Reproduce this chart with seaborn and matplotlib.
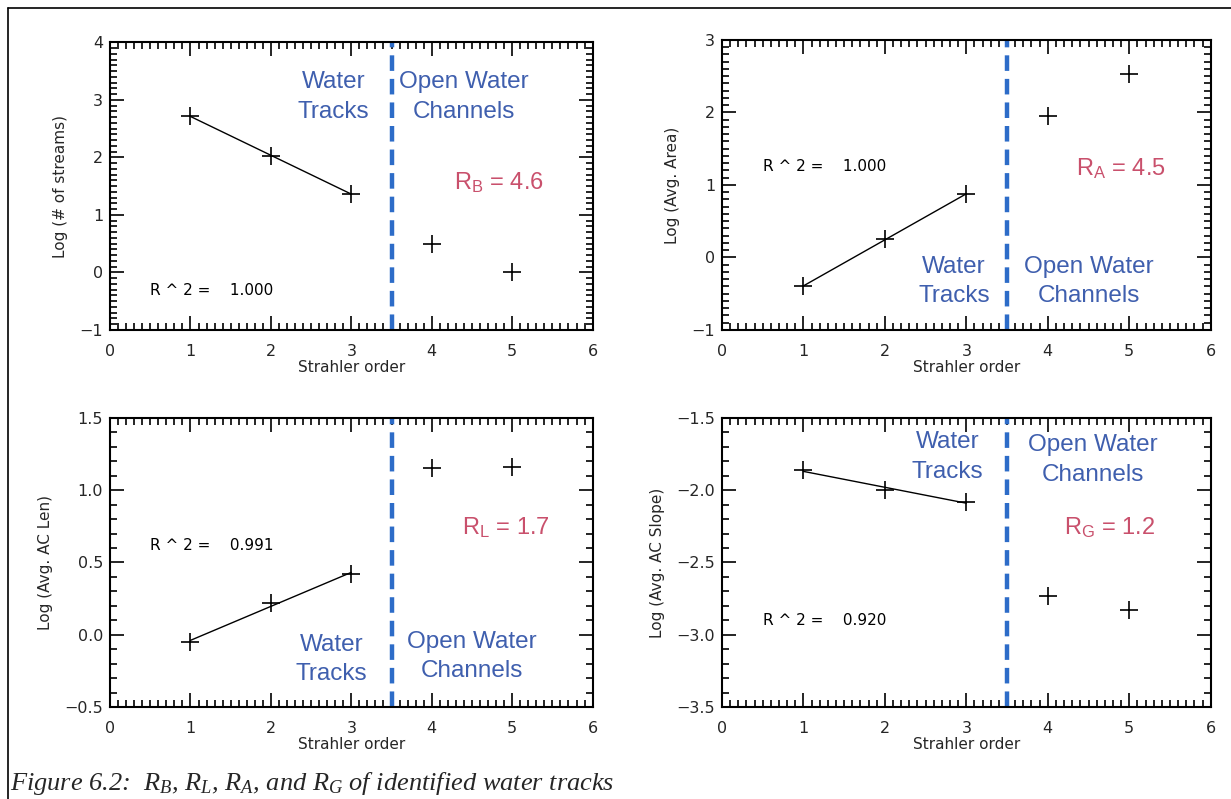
import numpy as np
import pandas as pd
import matplotlib
matplotlib.use('Agg')
import matplotlib.pyplot as plt
import seaborn as sns
from matplotlib.ticker import MultipleLocator
from matplotlib.lines import Line2D

# --- dane ---
order = [1, 2, 3, 4, 5]
log_streams = [2.72, 2.02, 1.37, 0.49, 0.00]
log_area = [-0.40, 0.26, 0.87, 1.95, 2.53]
log_len = [-0.05, 0.22, 0.42, 1.15, 1.16]
log_slope = [-1.86, -2.00, -2.08, -2.73, -2.83]

ylabels = ['Log (# of streams)', 'Log (Avg. Area)', 'Log (Avg. AC Len)', 'Log (Avg. AC Slope)']
r2_texts = ['R ^ 2 =    1.000', 'R ^ 2 =    1.000', 'R ^ 2 =    0.991', 'R ^ 2 =    0.920']
ratio_texts = [r'$\mathrm{R_B}$ = 4.6', r'$\mathrm{R_A}$ = 4.5', r'$\mathrm{R_L}$ = 1.7', r'$\mathrm{R_G}$ = 1.2']
ylims = [(-1, 4), (-1, 3), (-0.5, 1.5), (-3.5, -1.5)]
ymajor = [1, 1, 0.5, 0.5]
yfmt = ['{:.0f}', '{:.0f}', '{:.1f}', '{:.1f}']
# pozycje tekstów (x, y) w jednostkach danych
r2_pos = [(0.5, -0.31), (0.5, 1.25), (0.5, 0.62), (0.5, -2.9)]
ratio_pos = [(4.83, 1.57), (4.9, 1.22), (4.92, 0.74), (4.76, -2.26)]
wt_pos = [(2.78, 3.05), (2.85, -0.33), (2.75, -0.17), (2.77, -1.77)]
ow_pos = [(4.4, 3.05), (4.5, -0.33), (4.5, -0.15), (4.55, -1.79)]

series = [log_streams, log_area, log_len, log_slope]

sns.set_style('white')
plt.rcParams['mathtext.fontset'] = 'custom'
plt.rcParams['mathtext.rm'] = 'Liberation Sans'
plt.rcParams['mathtext.it'] = 'Liberation Serif:italic'
plt.rcParams['font.family'] = ['DejaVu Sans']

blue_txt = '#3f5fae'
red_txt = '#c9506c'
dash_col = '#2d6cc8'

fig = plt.figure(figsize=(12.31, 7.99), dpi=100)
boxes = [
    [0.0894, 0.587, 0.392, 0.360],
    [0.5865, 0.587, 0.397, 0.363],
    [0.0894, 0.115, 0.392, 0.362],
    [0.5865, 0.115, 0.397, 0.362],
]

for i in range(4):
    ax = fig.add_axes(boxes[i])
    df = pd.DataFrame({'order': order, 'val': series[i]})
    # linia regresji dla cieków 1-3
    sns.regplot(x='order', y='val', data=df[df['order'] <= 3], ci=None, scatter=False,
                truncate=True, color='black', line_kws={'lw': 1.0}, ax=ax)
    sns.scatterplot(x='order', y='val', data=df, marker='+', s=160, color='black',
                    linewidth=1.2, ax=ax)
    ax.axvline(3.5, color=dash_col, lw=3.2, ls=(0, (3.5, 1.8)))

    ax.set_xlim(0, 6)
    ax.set_ylim(*ylims[i])
    ax.xaxis.set_major_locator(MultipleLocator(1))
    ax.xaxis.set_minor_locator(MultipleLocator(0.1))
    ax.yaxis.set_major_locator(MultipleLocator(ymajor[i]))
    ax.yaxis.set_minor_locator(MultipleLocator(0.1))
    yt = ax.get_yticks()
    ax.set_yticks(yt)
    ax.set_yticklabels([yfmt[i].format(v).replace('-', '\u2212') for v in yt])
    ax.set_ylim(*ylims[i])
    ax.tick_params(which='both', direction='in', top=True, right=True, bottom=True, left=True,
                   labelsize=11.5, width=1.2, color='black')
    ax.tick_params(which='major', length=10)
    ax.tick_params(which='minor', length=5)
    ax.tick_params(axis='x', pad=10)
    ax.tick_params(axis='y', pad=5)
    for sp in ax.spines.values():
        sp.set_color('black')
        sp.set_linewidth(1.5)
    ax.set_xlabel('Strahler order', fontsize=11, labelpad=1)
    ax.set_ylabel(ylabels[i], fontsize=11, labelpad=8)

    ax.text(*r2_pos[i], r2_texts[i], fontsize=11, ha='left', va='center', color='black')
    ax.text(*ratio_pos[i], ratio_texts[i], fontsize=17, ha='center', va='center',
            color=red_txt, family='Liberation Sans')
    ax.text(*wt_pos[i], 'Water\nTracks', fontsize=17.5, ha='center', va='center',
            color=blue_txt, family='Liberation Sans', linespacing=1.45)
    ax.text(*ow_pos[i], 'Open Water\nChannels', fontsize=17.5, ha='center', va='center',
            color=blue_txt, family='Liberation Sans', linespacing=1.45)

# ramka strony
fig.add_artist(Line2D([0.0065, 0.0065], [0.0, 0.99], color='black', lw=1.2))
fig.add_artist(Line2D([0.0065, 1.0], [0.99, 0.99], color='black', lw=1.2))

fig.text(0.008, 0.02, r'Figure 6.2:  $R_B$, $R_L$, $R_A$, and $R_G$ of identified water tracks',
         fontsize=19, family='Liberation Serif', style='italic', ha='left', va='center')

fig.savefig('out.png', dpi=100)
